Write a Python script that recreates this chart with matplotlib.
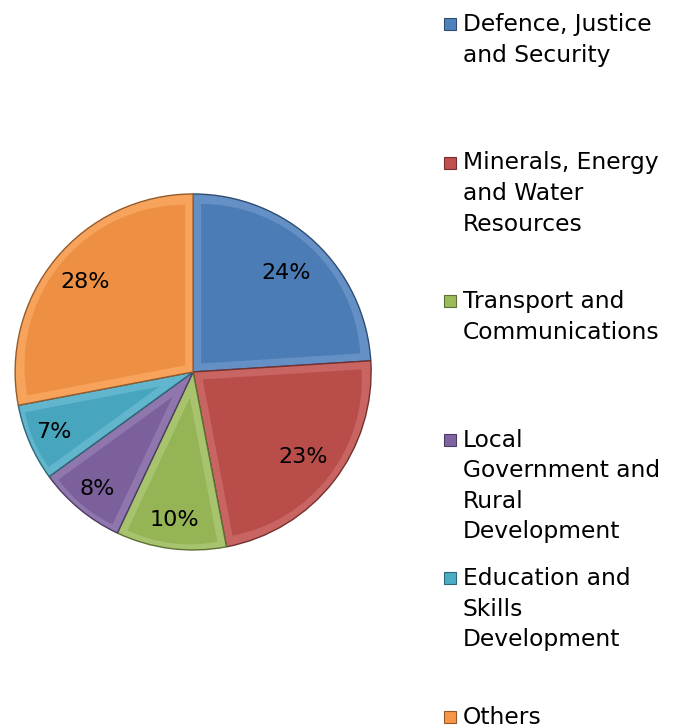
import numpy as np
import matplotlib.pyplot as plt
from matplotlib.patches import Rectangle, Wedge
from matplotlib.colors import to_rgb

categories = ['Defence, Justice\nand Security',
              'Minerals, Energy\nand Water\nResources',
              'Transport and\nCommunications',
              'Local\nGovernment and\nRural\nDevelopment',
              'Education and\nSkills\nDevelopment',
              'Others']
shares = [24, 23, 10, 8, 7, 28]
colors = ['#4F81BD', '#C0504D', '#9BBB59', '#8064A2', '#4BACC6', '#F79646']
# label distance from centre (fraction of radius) for each slice
label_radius = [0.76, 0.78, 0.84, 0.85, 0.85, 0.79]


def shade(c, f):
    r, g, b = to_rgb(c)
    if f > 1:
        k = f - 1
        return (r + (1 - r) * k, g + (1 - g) * k, b + (1 - b) * k)
    return (r * f, g * f, b * f)


fig = plt.figure(figsize=(6.76, 7.27), dpi=100)
ax = fig.add_axes([0.0222, 0.2435, 0.527, 0.4897])

wedges, _ = ax.pie(shares, colors=colors, startangle=90, counterclock=False,
                   radius=1.0, wedgeprops=dict(linewidth=1.0))

# fake bevel: lighter rim around a slightly darker inner face
bevel = 0.045
for w, c in zip(wedges, colors):
    w.set_facecolor(shade(c, 1.12))
    w.set_edgecolor(shade(c, 0.6))
    t1, t2 = w.theta1, w.theta2
    half = np.deg2rad((t2 - t1) / 2)
    mid = np.deg2rad((t1 + t2) / 2)
    shift = bevel / np.sin(half)
    cx, cy = shift * np.cos(mid), shift * np.sin(mid)
    inner = Wedge((cx, cy), 1 - bevel - shift * 0.9, t1, t2,
                  facecolor=shade(c, 0.96), edgecolor='none')
    ax.add_patch(inner)
    inner.set_clip_path(w)

theta = 90.0
for s, r in zip(shares, label_radius):
    span = s / 100 * 360
    mid = np.deg2rad(theta - span / 2)
    ax.text(r * np.cos(mid), r * np.sin(mid), f'{s}%', ha='center', va='center',
            fontsize=16, color='black')
    theta -= span

ax.set_xlim(-1, 1)
ax.set_ylim(-1, 1)
ax.set_aspect('equal')
ax.axis('off')

# legend, one entry every ~138 px
W, H = 676, 727
top = 24
step = 138.5
for i, (lab, c) in enumerate(zip(categories, colors)):
    y = top + i * step
    fig.add_artist(Rectangle((444 / W, 1 - (y + 6) / H), 12 / W, 12 / H,
                             transform=fig.transFigure, facecolor=c,
                             edgecolor=shade(c, 0.6), linewidth=0.8))
    fig.text(463 / W, 1 - (y - 11) / H, lab, ha='left', va='top',
             fontsize=16.8, linespacing=1.42, color='black')

fig.savefig('out.png', dpi=100)
